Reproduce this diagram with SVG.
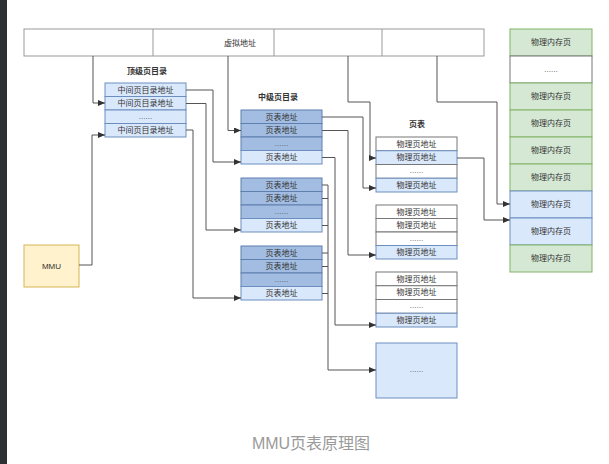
<svg xmlns="http://www.w3.org/2000/svg" width="609" height="464" viewBox="0 0 609 464">
<style>
text{font-family:"Liberation Sans","Noto Sans CJK SC",sans-serif;fill:#333;text-anchor:middle;dominant-baseline:central}
.t{font-size:8px}
.lb{font-size:8px;font-weight:bold}
.lt{fill:#dae8fc;stroke:#6c8ebf;stroke-width:1}
.dk{fill:#a3bde2;stroke:#5f7fae;stroke-width:1}
.wh{fill:#fff;stroke:#777;stroke-width:1}
.gr{fill:#d5e8d4;stroke:#82b366;stroke-width:1}
.bar{fill:#fff;stroke:#999;stroke-width:1}
.ln{fill:none;stroke:#555;stroke-width:1}
.dots{font-size:8px;fill:#555}
</style>
<defs>
<marker id="ah" markerUnits="userSpaceOnUse" markerWidth="7" markerHeight="6" refX="7" refY="3" orient="auto">
<path d="M0,0 L7,3 L0,6 z" fill="#333"/>
</marker>
</defs>
<rect x="0" y="0" width="609" height="464" fill="#fff"/>
<rect x="0" y="0" width="7" height="464" fill="#2e3133"/>

<g id="virtual-address">
<rect class="bar" x="24" y="29" width="460" height="27"/>
<line x1="153" y1="29" x2="153" y2="56" stroke="#999"/>
<line x1="274" y1="29" x2="274" y2="56" stroke="#999"/>
<line x1="382" y1="29" x2="382" y2="56" stroke="#999"/>
<text class="t" x="240" y="43">虚拟地址</text>
</g>

<g id="mmu">
<rect x="24" y="245" width="55" height="42" fill="#fff2cc" stroke="#d6b656"/>
<text class="t" x="51.5" y="266">MMU</text>
</g>

<g id="top-dir">
<text class="lb" x="147" y="71">顶级页目录</text>
<rect class="lt" x="105" y="83" width="81" height="13.5"/>
<rect class="lt" x="105" y="96.5" width="81" height="13.5"/>
<rect class="lt" x="105" y="110" width="81" height="13.5"/>
<rect class="lt" x="105" y="123.5" width="81" height="13.5"/>
<text class="t" x="145.5" y="90">中间页目录地址</text>
<text class="t" x="145.5" y="103.5">中间页目录地址</text>
<text class="dots" x="145.5" y="116.5">......</text>
<text class="t" x="145.5" y="130.5">中间页目录地址</text>
</g>

<g id="mid-dir-1">
<text class="lb" x="278" y="97">中级页目录</text>
<rect class="dk" x="241" y="110" width="81" height="13.5"/>
<rect class="dk" x="241" y="123.5" width="81" height="13.5"/>
<rect class="dk" x="241" y="137" width="81" height="13.5"/>
<rect class="lt" x="241" y="150.5" width="81" height="13.5"/>
<text class="t" x="281.5" y="117">页表地址</text>
<text class="t" x="281.5" y="130.5">页表地址</text>
<text class="dots" x="281.5" y="143.5">......</text>
<text class="t" x="281.5" y="157.5">页表地址</text>
</g>

<g id="mid-dir-2">
<rect class="dk" x="241" y="178" width="81" height="13.5"/>
<rect class="dk" x="241" y="191.5" width="81" height="13.5"/>
<rect class="dk" x="241" y="205" width="81" height="13.5"/>
<rect class="lt" x="241" y="218.5" width="81" height="13.5"/>
<text class="t" x="281.5" y="185">页表地址</text>
<text class="t" x="281.5" y="198.5">页表地址</text>
<text class="dots" x="281.5" y="211.5">......</text>
<text class="t" x="281.5" y="225.5">页表地址</text>
</g>

<g id="mid-dir-3">
<rect class="dk" x="241" y="246" width="81" height="13.5"/>
<rect class="dk" x="241" y="259.5" width="81" height="13.5"/>
<rect class="dk" x="241" y="273" width="81" height="13.5"/>
<rect class="lt" x="241" y="286.5" width="81" height="13.5"/>
<text class="t" x="281.5" y="253">页表地址</text>
<text class="t" x="281.5" y="266.5">页表地址</text>
<text class="dots" x="281.5" y="279.5">......</text>
<text class="t" x="281.5" y="293.5">页表地址</text>
</g>

<g id="page-table-1">
<text class="lb" x="417" y="124">页表</text>
<rect class="wh" x="376" y="137" width="81" height="13.75"/>
<rect class="lt" x="376" y="150.75" width="81" height="13.75"/>
<rect class="wh" x="376" y="164.5" width="81" height="13.75"/>
<rect class="lt" x="376" y="178.25" width="81" height="13.75"/>
<text class="t" x="416.5" y="144">物理页地址</text>
<text class="t" x="416.5" y="157.7">物理页地址</text>
<text class="dots" x="416.5" y="170.5">......</text>
<text class="t" x="416.5" y="185.2">物理页地址</text>
</g>

<g id="page-table-2">
<rect class="wh" x="376" y="205" width="81" height="13.5"/>
<rect class="wh" x="376" y="218.5" width="81" height="13.5"/>
<rect class="wh" x="376" y="232" width="81" height="13.5"/>
<rect class="lt" x="376" y="245.5" width="81" height="13.5"/>
<text class="t" x="416.5" y="212">物理页地址</text>
<text class="t" x="416.5" y="225.5">物理页地址</text>
<text class="dots" x="416.5" y="238">......</text>
<text class="t" x="416.5" y="252.5">物理页地址</text>
</g>

<g id="page-table-3">
<rect class="wh" x="376" y="272" width="81" height="13.75"/>
<rect class="wh" x="376" y="285.75" width="81" height="13.75"/>
<rect class="wh" x="376" y="299.5" width="81" height="13.75"/>
<rect class="lt" x="376" y="313.25" width="81" height="13.75"/>
<text class="t" x="416.5" y="279">物理页地址</text>
<text class="t" x="416.5" y="292.7">物理页地址</text>
<text class="dots" x="416.5" y="305.5">......</text>
<text class="t" x="416.5" y="320.2">物理页地址</text>
</g>

<g id="page-table-more">
<rect class="lt" x="376" y="343" width="81" height="55" stroke-width="1.5"/>
<text class="dots" x="416.5" y="369">......</text>
</g>

<g id="physical-memory">
<rect class="gr" x="510" y="29" width="82" height="27"/>
<rect class="wh" x="510" y="56" width="82" height="27"/>
<rect class="gr" x="510" y="83" width="82" height="27"/>
<rect class="gr" x="510" y="110" width="82" height="27"/>
<rect class="gr" x="510" y="137" width="82" height="27"/>
<rect class="gr" x="510" y="164" width="82" height="27"/>
<rect class="lt" x="510" y="191" width="82" height="27"/>
<rect class="lt" x="510" y="218" width="82" height="27"/>
<rect class="gr" x="510" y="245" width="82" height="27"/>
<text class="t" x="551" y="42.5">物理内存页</text>
<text class="dots" x="551" y="69">......</text>
<text class="t" x="551" y="96.5">物理内存页</text>
<text class="t" x="551" y="123.5">物理内存页</text>
<text class="t" x="551" y="150.5">物理内存页</text>
<text class="t" x="551" y="177.5">物理内存页</text>
<text class="t" x="551" y="204.5">物理内存页</text>
<text class="t" x="551" y="231.5">物理内存页</text>
<text class="t" x="551" y="258.5">物理内存页</text>
</g>

<g id="connectors">
<path class="ln" d="M93,56 V103 H105" marker-end="url(#ah)"/>
<path class="ln" d="M79,265 H92 V135 H105" marker-end="url(#ah)"/>
<path class="ln" d="M228,56 V130.5 H241" marker-end="url(#ah)"/>
<path class="ln" d="M348,56 V102 H370 V158 H376" marker-end="url(#ah)"/>
<path class="ln" d="M437,56 V102 H497 V204 H510" marker-end="url(#ah)"/>
<path class="ln" d="M186,90 H213 V162 H241" marker-end="url(#ah)"/>
<path class="ln" d="M186,103.5 H206 V230 H241" marker-end="url(#ah)"/>
<path class="ln" d="M186,130 H193 V298 H241" marker-end="url(#ah)"/>
<path class="ln" d="M322,117 H363 V188 H376" marker-end="url(#ah)"/>
<path class="ln" d="M322,130.5 H348 V255 H376" marker-end="url(#ah)"/>
<path class="ln" d="M322,157.5 H335 V325 H376" marker-end="url(#ah)"/>
<path class="ln" d="M457,158 H484 V220 H510" marker-end="url(#ah)"/>
<path class="ln" d="M322,185 H328 M322,198.5 H328 M322,225.5 H328 M322,253 H328 M322,266.5 H328 M322,293.5 H328"/>
<path class="ln" d="M328,185 V370 H376" marker-end="url(#ah)"/>
</g>

<text x="311" y="443" style="font-size:16px;fill:#9a9a9a">MMU页表原理图</text>
</svg>
